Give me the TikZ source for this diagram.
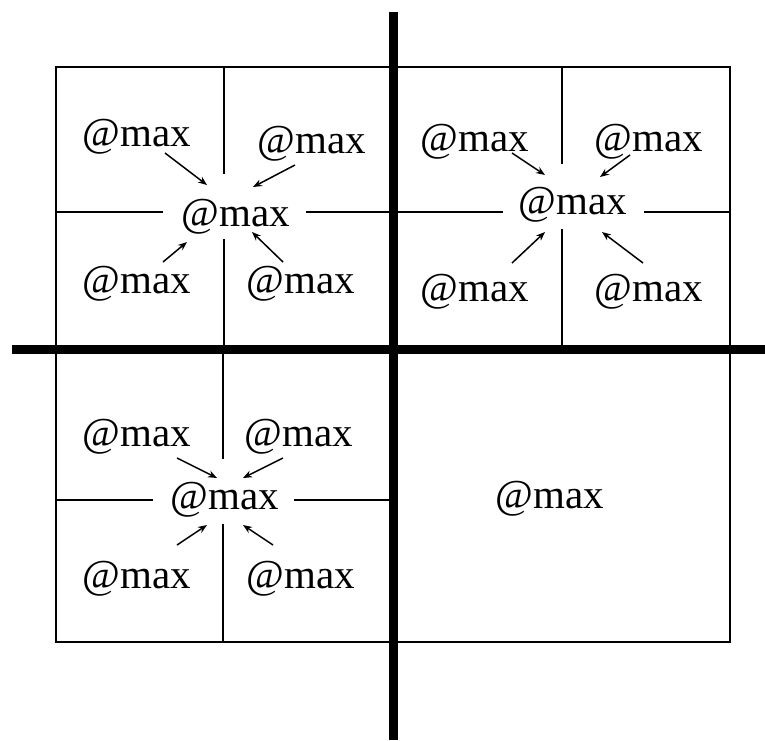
\documentclass[tikz,border=0pt]{standalone}
\usepackage{fontspec}
\setmainfont{Liberation Serif}
\usetikzlibrary{arrows.meta}
\begin{document}
\begin{tikzpicture}[x=1pt,y=-1pt,
  lbl/.style={font=\fontsize{41}{41}\selectfont, inner sep=0pt},
  gridline/.style={line width=2pt, line cap=rect},
  axis/.style={line width=9pt},
  arr/.style={-{Stealth[length=9pt,width=7pt]}, line width=1.5pt}]
\useasboundingbox (0,0) rectangle (765,740);
% outer box
\draw[gridline] (56,67) rectangle (730,642);
% top-left quadrant dividers
\draw[gridline] (224,67) -- (224,173) (224,240) -- (224,349)
  (56,212) -- (162,212) (307,212) -- (393,212);
% top-right quadrant dividers
\draw[gridline] (562,67) -- (562,163) (562,230) -- (562,349)
  (393,212) -- (502,212) (645,212) -- (730,212);
% bottom-left quadrant dividers
\draw[gridline] (223,349) -- (223,458) (223,525) -- (223,642)
  (56,500) -- (152,500) (295,500) -- (393,500);
% thick axes
\draw[axis] (393,12) -- (393,740);
\draw[axis] (12,349) -- (765,349);
% labels top-left
\node[lbl] (a1) at (137,137) {@max};
\node[lbl] (a2) at (312,144) {@max};
\node[lbl] (a3) at (137,284) {@max};
\node[lbl] (a4) at (301,284) {@max};
\node[lbl] (ac) at (236,217) {@max};
% labels top-right
\node[lbl] (b1) at (475,142) {@max};
\node[lbl] (b2) at (649,142) {@max};
\node[lbl] (b3) at (475,292) {@max};
\node[lbl] (b4) at (649,292) {@max};
\node[lbl] (bc) at (573,205) {@max};
% labels bottom-left
\node[lbl] (c1) at (137,437) {@max};
\node[lbl] (c2) at (299,437) {@max};
\node[lbl] (c3) at (137,579) {@max};
\node[lbl] (c4) at (301,579) {@max};
\node[lbl] (cc) at (225,500) {@max};
% bottom-right
\node[lbl] (d) at (550,499) {@max};
% arrow end points
\coordinate (a1s) at (165,153); \coordinate (a1e) at (207,185);
\coordinate (a2s) at (295,165); \coordinate (a2e) at (253,187);
\coordinate (a3s) at (163,262); \coordinate (a3e) at (187,242);
\coordinate (a4s) at (283,262); \coordinate (a4e) at (252,232);
\coordinate (b1s) at (512,153); \coordinate (b1e) at (545,175);
\coordinate (b2s) at (630,155); \coordinate (b2e) at (600,177);
\coordinate (b3s) at (512,263); \coordinate (b3e) at (545,232);
\coordinate (b4s) at (643,263); \coordinate (b4e) at (602,232);
\coordinate (c1s) at (177,458); \coordinate (c1e) at (217,478);
\coordinate (c2s) at (283,458); \coordinate (c2e) at (243,478);
\coordinate (c3s) at (177,545); \coordinate (c3e) at (207,525);
\coordinate (c4s) at (273,545); \coordinate (c4e) at (243,525);
\foreach \q in {a,b,c}{
  \foreach \i in {1,2,3,4}{
    \draw[arr] (\q\i s) -- (\q\i e);
  }
}
\end{tikzpicture}
\end{document}
